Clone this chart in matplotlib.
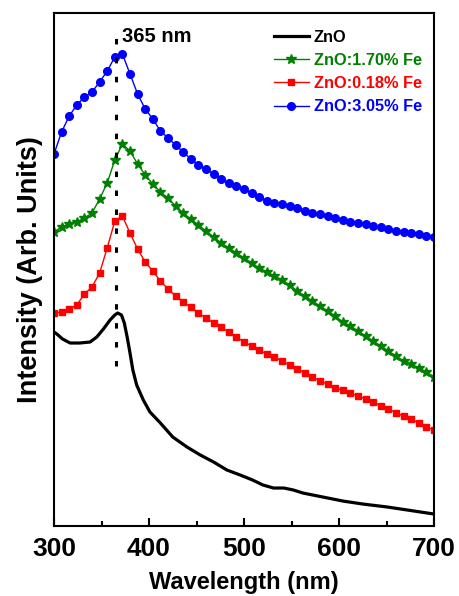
import numpy as np
import matplotlib
matplotlib.use("Agg")
import matplotlib.pyplot as plt

plt.rcParams["font.family"] = ["Liberation Sans", "DejaVu Sans"]
plt.rcParams["font.weight"] = "bold"

# wavelength grid of the doped samples (nm)
wl_doped = np.arange(300, 701, 8)

fe_305 = [372, 394, 410, 421, 429, 434, 444, 455, 469, 472, 452, 432, 417, 407, 395, 388,
          381, 374, 367, 361, 357, 352, 347, 343, 340, 337, 333, 329, 325, 323, 322, 320,
          318, 315, 313, 312, 310, 308, 306, 304, 303, 302, 300, 299, 297, 295, 294, 293,
          292, 290, 289]
fe_170 = [294, 299, 302, 304, 308, 313, 327, 343, 366, 382, 375, 362, 351, 342, 334, 328,
          320, 313, 307, 301, 295, 289, 283, 278, 273, 268, 263, 258, 254, 250, 246, 241,
          235, 230, 225, 220, 215, 210, 204, 200, 195, 190, 185, 180, 175, 170, 165, 162,
          158, 154, 149]
fe_018 = [213, 214, 217, 221, 232, 239, 253, 278, 305, 310, 293, 277, 264, 255, 245, 237,
          230, 224, 219, 213, 208, 203, 199, 194, 189, 184, 180, 176, 172, 169, 165, 161,
          157, 153, 149, 145, 142, 138, 136, 133, 130, 127, 124, 120, 117, 113, 110, 107,
          103, 99, 96]

wl_zno = [300, 303, 309, 317, 327, 338, 345, 352, 359, 364, 367, 371, 374, 377, 380, 383,
          387, 394, 401, 412, 425, 440, 454, 468, 482, 496, 509, 520, 531, 542, 552, 562,
          583, 604, 625, 651, 672, 700]
zno = [194, 192, 187, 183, 183, 184, 189, 197, 206, 211, 213, 211, 203, 189, 173, 156,
       141, 126, 114, 103, 89, 79, 71, 64, 56, 51, 46, 41, 38, 38, 36, 33,
       29, 25, 22, 19, 16, 12]

peak_nm = 365

fig = plt.figure(figsize=(4.6, 5.96), dpi=100)
ax = fig.add_axes([0.1174, 0.1174, 0.8261, 0.8608])

ax.plot(wl_zno, zno, color="black", lw=2.3, solid_joinstyle="round", label="ZnO")
ax.plot(wl_doped, fe_170, color="#008000", lw=1, marker="*", ms=7, label="ZnO:1.70% Fe")
ax.plot(wl_doped, fe_018, color="#ff0000", lw=1, marker="s", ms=4.7, label="ZnO:0.18% Fe")
ax.plot(wl_doped, fe_305, color="#0000ff", lw=1, marker="o", ms=5.5, label="ZnO:3.05% Fe")

ax.plot([peak_nm, peak_nm], [160, 497], color="black", lw=2.2,
        dashes=(1.8, 4.4), dash_capstyle="butt")
ax.text(peak_nm + 7, 489, f"{peak_nm} nm", fontsize=14.5, fontweight="bold", va="center")

ax.set_xlim(300, 700)
ax.set_ylim(0, 513)
ax.set_xticks([300, 400, 500, 600, 700])
ax.set_xticks([350, 450, 550, 650], minor=True)
ax.set_yticks([])
ax.tick_params(axis="x", which="major", direction="in", length=6, width=1.5,
               labelsize=19, pad=8)
ax.tick_params(axis="x", which="minor", direction="in", length=3.5, width=1.5)
for s in ax.spines.values():
    s.set_linewidth(1.5)

ax.set_xlabel("Wavelength (nm)", fontsize=17, fontweight="bold", labelpad=7)
ax.set_ylabel("Intensity (Arb. Units)", fontsize=19.5, fontweight="bold", labelpad=8)

leg = ax.legend(loc="upper right", bbox_to_anchor=(1.0066, 0.996), frameon=False,
                prop={"size": 11.8, "weight": "bold"}, labelcolor="linecolor",
                numpoints=1, handlelength=2.13, handletextpad=0.3, labelspacing=0.5,
                borderpad=0.4)

fig.savefig("out.png", dpi=100)
